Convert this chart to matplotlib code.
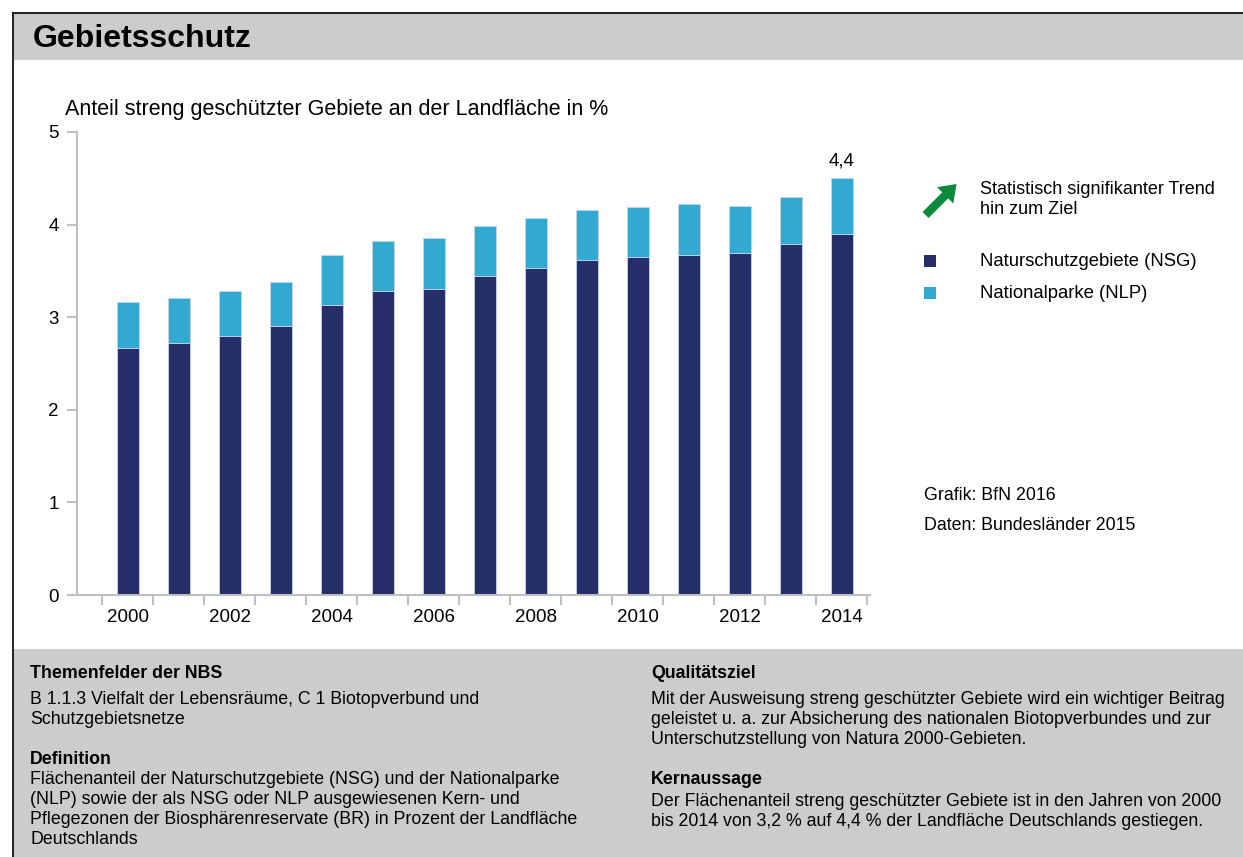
"""
Gebietsschutz – Anteil streng geschützter Gebiete (NSG + NLP), gestapelte Säulen.
"""

import matplotlib
matplotlib.use('Agg')
import numpy as np
import matplotlib.pyplot as plt
from matplotlib.patches import Rectangle, FancyArrow
from matplotlib.lines import Line2D

plt.rcParams['font.family'] = ['Liberation Sans', 'DejaVu Sans']

# ── Daten ─────────────────────────────────────────────────────
years = [2000, 2001, 2002, 2003, 2004, 2005, 2006, 2007,
         2008, 2009, 2010, 2011, 2012, 2013, 2014]
nsg   = [2.67, 2.72, 2.80, 2.90, 3.13, 3.28, 3.30, 3.44,
         3.53, 3.62, 3.65, 3.67, 3.69, 3.79, 3.90]
nlp   = [0.49, 0.49, 0.48, 0.48, 0.54, 0.54, 0.56, 0.54,
         0.54, 0.54, 0.54, 0.55, 0.51, 0.51, 0.60]
yticks = [0, 1, 2, 3, 4, 5]
last_label = '4,4'

# ── Farben ────────────────────────────────────────────────────
C_NSG   = '#252e69'
C_NLP   = '#31a9d0'
C_EDGE  = '#c9d3ea'
C_AXIS  = '#bdbfc0'
C_PANEL = '#cbcccb'
C_ARROW = '#0a8a3c'

W, H = 1243, 857
fig = plt.figure(figsize=(W / 100, H / 100), dpi=100, facecolor='white')

def fy(py):
    return 1 - py / H

def fx(px):
    return px / W

# ── Rahmen und graue Flächen ──────────────────────────────────
fig.add_artist(Rectangle((fx(13), fy(60)), 1, fy(13) - fy(60),
                         transform=fig.transFigure, fc=C_PANEL, ec='none'))
fig.add_artist(Rectangle((fx(13), 0), 1, fy(649),
                         transform=fig.transFigure, fc=C_PANEL, ec='none'))
fig.add_artist(Line2D([fx(13), 1], [fy(13), fy(13)], transform=fig.transFigure,
                      color='black', lw=1.2))
fig.add_artist(Line2D([fx(13), fx(13)], [0, fy(13)], transform=fig.transFigure,
                      color='black', lw=1.2))

fig.text(fx(33), fy(39), 'Gebietsschutz', fontsize=23, fontweight='bold',
         va='center', ha='left')
fig.text(fx(65), fy(110), 'Anteil streng geschützter Gebiete an der Landfläche in %',
         fontsize=15.5, va='center', ha='left')

# ── Diagramm ──────────────────────────────────────────────────
ax = fig.add_axes([fx(77), fy(595), fx(870) - fx(77), fy(132) - fy(595)])
x = np.arange(len(years))
bw = 0.42
ax.bar(x, nsg, width=bw, color=C_NSG, edgecolor=C_EDGE, linewidth=0.6)
ax.bar(x, nlp, width=bw, bottom=nsg, color=C_NLP, edgecolor=C_EDGE, linewidth=0.6)

total_last = nsg[-1] + nlp[-1]
ax.annotate(last_label, (x[-1], total_last), xytext=(0, 6), textcoords='offset points',
            ha='center', va='bottom', fontsize=13.5)

ax.set_xlim(-1.0, 14.55)
ax.set_ylim(0, 5)
ax.set_yticks(yticks)
ax.set_yticklabels([str(v) for v in yticks])
ax.set_xticks(x[::2])
ax.set_xticklabels([str(y) for y in years[::2]])
ax.set_xticks(np.arange(-0.5, len(years), 1.0), minor=True)

for s in ['top', 'right']:
    ax.spines[s].set_visible(False)
for s in ['left', 'bottom']:
    ax.spines[s].set_color(C_AXIS)
    ax.spines[s].set_linewidth(1.5)

ax.tick_params(axis='y', length=7, width=1.5, color=C_AXIS, labelsize=13.5, pad=6)
ax.tick_params(axis='x', which='major', length=0, labelsize=13.5, pad=10)
ax.tick_params(axis='x', which='minor', length=7, width=1.5, color=C_AXIS)

# ── Legende ───────────────────────────────────────────────────
arr = FancyArrow(9.255, fy(215) * H / 100, 0.31, 0.31, width=0.085,
                 head_width=0.23, head_length=0.16, length_includes_head=True,
                 transform=fig.dpi_scale_trans, color=C_ARROW, lw=0)
fig.add_artist(arr)
fig.text(fx(980), fy(190), 'Statistisch signifikanter Trend', fontsize=13, va='center')
fig.text(fx(980), fy(210), 'hin zum Ziel', fontsize=13, va='center')

for py, col, lab in [(261, C_NSG, 'Naturschutzgebiete (NSG)'),
                     (293, C_NLP, 'Nationalparke (NLP)')]:
    fig.add_artist(Rectangle((fx(924), fy(py + 6)), fx(12), fy(py - 6) - fy(py + 6),
                             transform=fig.transFigure, fc=col, ec='none'))
    fig.text(fx(980), fy(py), lab, fontsize=13.3, va='center')

fig.text(fx(924), fy(495), 'Grafik: BfN 2016', fontsize=12.8, va='center')
fig.text(fx(924), fy(526), 'Daten: Bundesländer 2015', fontsize=12.8, va='center')

# ── Textblöcke unten ──────────────────────────────────────────
def block(px, lines):
    for py, txt, bold in lines:
        fig.text(fx(px), fy(py), txt, fontsize=12.8, va='center',
                 fontweight='bold' if bold else 'normal')

block(30, [
    (674, 'Themenfelder der NBS', True),
    (700, 'B 1.1.3 Vielfalt der Lebensräume, C 1 Biotopverbund und', False),
    (719, 'Schutzgebietsnetze', False),
    (759, 'Definition', True),
    (780, 'Flächenanteil der Naturschutzgebiete (NSG) und der Nationalparke', False),
    (800, '(NLP) sowie der als NSG oder NLP ausgewiesenen Kern- und', False),
    (820, 'Pflegezonen der Biosphärenreservate (BR) in Prozent der Landfläche', False),
    (840, 'Deutschlands', False),
])
block(651, [
    (674, 'Qualitätsziel', True),
    (700, 'Mit der Ausweisung streng geschützter Gebiete wird ein wichtiger Beitrag', False),
    (720, 'geleistet u. a. zur Absicherung des nationalen Biotopverbundes und zur', False),
    (740, 'Unterschutzstellung von Natura 2000-Gebieten.', False),
    (779, 'Kernaussage', True),
    (801, 'Der Flächenanteil streng geschützter Gebiete ist in den Jahren von 2000', False),
    (821, 'bis 2014 von 3,2 % auf 4,4 % der Landfläche Deutschlands gestiegen.', False),
])

fig.savefig('out.png', dpi=100, facecolor='white')
